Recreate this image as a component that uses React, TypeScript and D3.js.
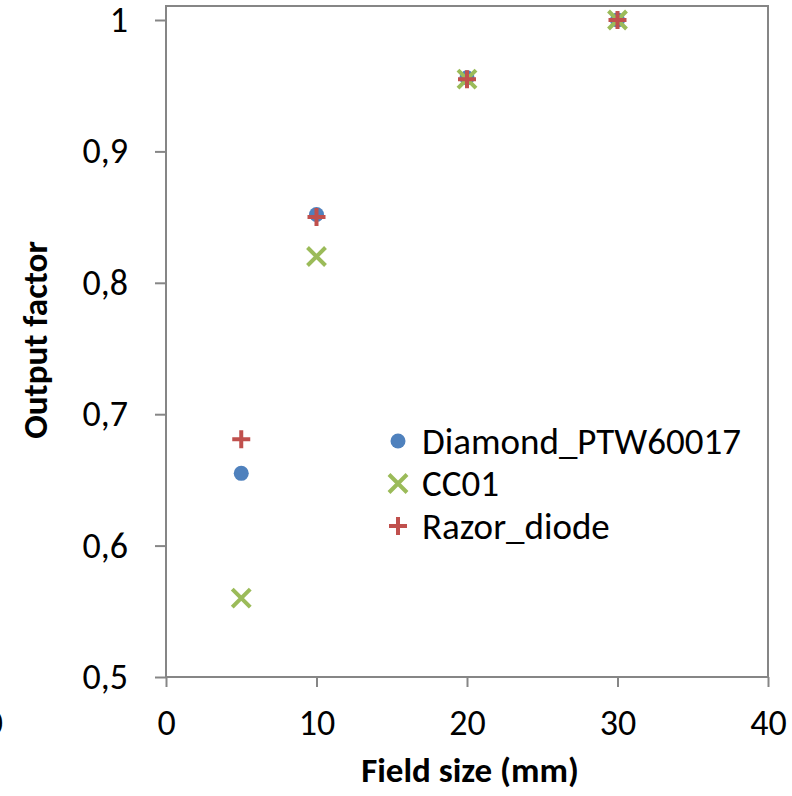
import React, { useEffect, useRef } from "react";
import * as d3 from "d3";

// field sizes (mm)
const fieldSizes = [5, 10, 20, 30];
// output factors per detector
const diamondValues = [0.655, 0.852, 0.956, 1.0];
const cc01Values = [0.56, 0.82, 0.955, 1.0];
const razorValues = [0.681, 0.85, 0.955, 1.0];

const xTicks = [0, 10, 20, 30, 40];
const yTicks = [0.5, 0.6, 0.7, 0.8, 0.9, 1];

const seriesNames = ["Diamond_PTW60017", "CC01", "Razor_diode"];
const seriesColors = ["#4F81BD", "#9BBB59", "#C0504D"];

const FONT = "Carlito, 'Open Sans', 'Liberation Sans', sans-serif";

const App = () => {
  const svgRef = useRef<SVGSVGElement>(null);

  useEffect(() => {
    const width = 792;
    const height = 796;
    const left = 166;
    const right = 768;
    const top = 6;
    const bottom = 677;

    const svg = d3.select(svgRef.current);
    svg.selectAll("*").remove();

    const x = d3.scaleLinear().domain([0, 40]).range([left, right]);
    const y = d3.scaleLinear().domain([0.5, 1]).range([bottom, 20]);

    // plot frame
    svg
      .append("rect")
      .attr("x", left)
      .attr("y", top)
      .attr("width", right - left)
      .attr("height", bottom - top)
      .attr("fill", "none")
      .attr("stroke", "#868686")
      .attr("stroke-width", 2);

    // y axis
    const yAxis = svg
      .append("g")
      .attr("transform", `translate(${left},0)`)
      .call(
        d3
          .axisLeft(y)
          .tickValues(yTicks)
          .tickSize(11)
          .tickPadding(27)
          .tickFormat((d) => d3.format(".1f")(d as number).replace(".", ",").replace(/^1,0$/, "1"))
      );
    yAxis.select(".domain").remove();
    yAxis.selectAll(".tick line").attr("stroke", "#868686").attr("stroke-width", 2);
    yAxis
      .selectAll(".tick text")
      .attr("fill", "#000")
      .style("font-family", FONT)
      .style("font-size", "36px");

    // x axis
    const xAxis = svg
      .append("g")
      .attr("transform", `translate(0,${bottom})`)
      .call(d3.axisBottom(x).tickValues(xTicks).tickSize(10).tickPadding(22).tickFormat(d3.format("d")));
    xAxis.select(".domain").remove();
    xAxis.selectAll(".tick line").attr("stroke", "#868686").attr("stroke-width", 2);
    xAxis
      .selectAll(".tick text")
      .attr("fill", "#000")
      .style("font-family", FONT)
      .style("font-size", "36px");

    // stray clipped label at the far left
    svg
      .append("text")
      .attr("x", 3)
      .attr("y", 735)
      .attr("text-anchor", "end")
      .style("font-family", FONT)
      .style("font-size", "36px")
      .text("0");

    // axis titles
    svg
      .append("text")
      .attr("x", 470)
      .attr("y", 782)
      .attr("text-anchor", "middle")
      .style("font-family", FONT)
      .style("font-size", "35px")
      .style("font-weight", "bold")
      .text("Field size (mm)");

    svg
      .append("text")
      .attr("transform", `translate(47,340) rotate(-90)`)
      .attr("text-anchor", "middle")
      .style("font-family", FONT)
      .style("font-size", "35px")
      .style("font-weight", "bold")
      .text("Output factor");

    // marker drawers
    const drawCircle = (g, cx, cy, color) =>
      g.append("circle").attr("cx", cx).attr("cy", cy).attr("r", 7.5).attr("fill", color);
    const drawX = (g, cx, cy, color) =>
      g
        .append("path")
        .attr("d", `M${cx - 9},${cy - 9}L${cx + 9},${cy + 9}M${cx - 9},${cy + 9}L${cx + 9},${cy - 9}`)
        .attr("stroke", color)
        .attr("stroke-width", 4);
    const drawPlus = (g, cx, cy, color) =>
      g
        .append("path")
        .attr("d", `M${cx - 9},${cy}L${cx + 9},${cy}M${cx},${cy - 9}L${cx},${cy + 9}`)
        .attr("stroke", color)
        .attr("stroke-width", 4);

    const drawers = [drawCircle, drawX, drawPlus];
    const allValues = [diamondValues, cc01Values, razorValues];

    const marks = svg.append("g");
    allValues.forEach((vals, s) => {
      vals.forEach((v, i) => drawers[s](marks, x(fieldSizes[i]), y(v), seriesColors[s]));
    });

    // legend
    const legend = svg.append("g");
    seriesNames.forEach((name, i) => {
      const ly = 441 + i * 42.5;
      drawers[i](legend, 398, ly, seriesColors[i]);
      legend
        .append("text")
        .attr("x", 422)
        .attr("y", ly)
        .attr("dy", "0.35em")
        .style("font-family", FONT)
        .style("font-size", "37px")
        .text(name);
    });

    svg.attr("width", width).attr("height", height);
  }, []);

  return (
    <div style={{ position: "absolute", left: 0, top: 0 }}>
      <svg ref={svgRef} width={792} height={796} style={{ display: "block", background: "#fff" }} />
    </div>
  );
};

export default App;
